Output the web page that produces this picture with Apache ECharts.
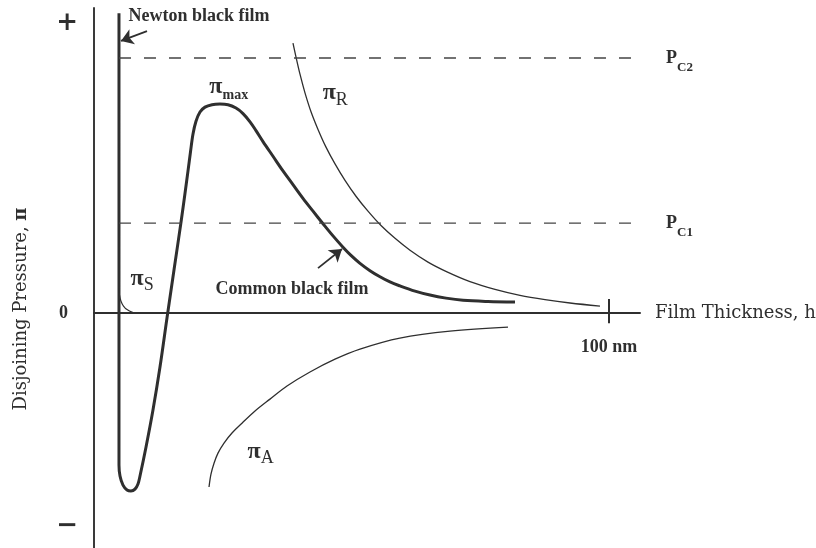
<!DOCTYPE html>
<html>
<head>
<meta charset="utf-8">
<script src="https://cdn.jsdelivr.net/npm/echarts@6/dist/echarts.min.js"></script>
<style>
  html, body { margin: 0; padding: 0; background: #ffffff; }
  #chart { width: 816px; height: 548px; }
</style>
</head>
<body>
<div id="chart"></div>
<script>
// Film thickness h (nm) against disjoining pressure (arbitrary units).

// Total isotherm: Newton black film branch, attractive well, barrier, common black film tail
const totalH  = [4.85, 4.85, 4.85, 5.05, 5.63, 6.41, 7.18, 7.96, 8.54, 8.93, 10.10, 11.45, 12.81, 14.17, 15.53, 16.89, 17.67, 18.25, 18.73, 19.22, 19.80, 20.58, 21.55, 22.91, 24.46, 26.01, 27.57, 28.93, 30.29, 31.45, 32.81, 34.75, 36.69, 38.63, 40.57, 42.52, 44.46, 46.40, 48.34, 49.89, 51.64, 53.58, 55.52, 57.46, 59.41, 62.32, 65.23, 68.34, 71.64, 76.49, 81.73];
const totalPi = [98.3, 20.6, -49.8, -53.4, -56.4, -58.0, -58.3, -57.7, -56.0, -53.4, -43.9, -31.8, -17.7, -1.6, 14.1, 29.8, 39.3, 46.6, 52.8, 58.7, 62.9, 65.9, 67.5, 68.3, 68.5, 68.3, 67.2, 65.4, 62.7, 59.8, 56.2, 51.4, 46.6, 42.1, 37.6, 33.4, 29.3, 25.3, 21.6, 18.9, 16.3, 13.9, 11.9, 10.2, 8.9, 7.2, 5.9, 4.9, 4.2, 3.8, 3.6];

// Electrostatic repulsion
const repulsiveH  = [38.63, 39.22, 39.99, 40.96, 42.13, 43.49, 45.04, 46.79, 48.73, 50.86, 53.19, 55.72, 58.44, 61.35, 64.84, 68.53, 72.99, 77.85, 82.70, 87.56, 92.41, 98.23];
const repulsivePi = [88.5, 83.9, 78.3, 72.2, 66.0, 60.2, 54.4, 48.9, 43.5, 38.3, 33.4, 28.7, 24.5, 20.6, 16.7, 13.5, 10.3, 7.75, 5.8, 4.4, 3.3, 2.3];

// Van der Waals attraction
const attractiveH  = [22.33, 22.71, 23.30, 24.07, 25.24, 26.79, 28.73, 31.26, 34.17, 37.47, 41.93, 46.79, 51.64, 59.38, 69.11, 80.37];
const attractivePi = [-57.0, -52.8, -49.2, -45.9, -42.6, -39.3, -36.1, -32.1, -28.2, -23.9, -19.3, -15.1, -11.8, -8.2, -5.9, -4.6];

// Short-range steric repulsion
const stericH  = [4.85, 4.95, 5.24, 5.73, 6.41, 7.57];
const stericPi = [8.2, 5.9, 3.9, 2.3, 1.15, 0.16];

// Capillary pressures P_C1 and P_C2
const criticalPressures = [29.5, 83.6];
const criticalNames = ['C1', 'C2'];
const criticalSpan = [4.85, 108.5];

// Axis ticks
const xTickValues = [100];
const yTickValues = [95, 0, -69.8];
const yTickLabels = ['+', '0', '\u2212'];

const ink = '#2f2f2f';
const serif = 'DejaVu Serif';
const timesBold = { fontFamily: 'Liberation Serif', fontWeight: 'bold' };

const zip = (xs, ys) => xs.map((x, i) => [x, ys[i]]);

const piRich = {
  pi:  Object.assign({ fontSize: 24, color: ink, verticalAlign: 'bottom', padding: [0, 0, 4, 0] }, timesBold),
  sub: { fontFamily: 'Liberation Serif', fontSize: 18, color: ink, verticalAlign: 'bottom' },
  max: Object.assign({ fontSize: 14, color: ink, verticalAlign: 'bottom' }, timesBold)
};

function note(coord, text, extra) {
  return {
    coord: coord,
    label: Object.assign({ formatter: text, rich: piRich }, extra || {})
  };
}

const chart = echarts.init(document.getElementById('chart'), null, { renderer: 'canvas' });

const dashedSeries = criticalPressures.map((p, i) => ({
  type: 'line',
  name: 'P' + criticalNames[i],
  data: zip(criticalSpan, [p, p]),
  clip: false,
  symbol: 'none',
  silent: true,
  lineStyle: { color: '#444', width: 1.4, type: [12, 13] },
  endLabel: {
    show: true,
    distance: 24,
    offset: [0, 4],
    formatter: () => '{p|P}{s|' + criticalNames[i] + '}',
    rich: {
      p: Object.assign({ fontSize: 18, color: ink, verticalAlign: 'bottom', padding: [0, 0, 7, 0] }, timesBold),
      s: Object.assign({ fontSize: 13, color: ink, verticalAlign: 'bottom' }, timesBold)
    }
  }
}));

const curveSmooth = 0.35;

const option = {
  animation: false,
  backgroundColor: '#ffffff',
  textStyle: { fontFamily: serif, color: ink },
  grid: { left: 94, right: 176, top: 8, bottom: 0, containLabel: false, outerBoundsMode: 'none' },
  xAxis: {
    type: 'value', min: 0, max: 106,
    splitLine: { show: false },
    axisLine: { onZero: true, lineStyle: { color: ink, width: 2 } },
    axisTick: { show: false },
    axisLabel: { show: false },
    name: 'Film Thickness, h', nameLocation: 'end', nameGap: 15,
    nameTextStyle: { fontFamily: serif, fontSize: 18, color: ink }
  },
  yAxis: {
    type: 'value', min: -77, max: 100,
    splitLine: { show: false },
    axisLine: { show: true, onZero: true, lineStyle: { color: '#3a3a3a', width: 2 } },
    axisTick: { show: false },
    axisLabel: {
      customValues: yTickValues,
      margin: 16,
      formatter: (v) => {
        const t = yTickLabels[yTickValues.indexOf(v)];
        return t === '0' ? '{z|0}' : '{s|' + t + '}';
      },
      rich: {
        s: { fontFamily: serif, fontWeight: 'bold', fontSize: 26, color: ink },
        z: Object.assign({ fontSize: 18, color: ink, padding: [0, 10, 0, 0] }, timesBold)
      }
    },
    name: '{a|Disjoining Pressure, }{b|\u03c0}',
    nameLocation: 'middle', nameRotate: 90, nameGap: 64,
    nameTextStyle: {
      padding: [0, 62, 0, 0],
      rich: {
        a: { fontFamily: serif, fontSize: 18, color: ink },
        b: { fontFamily: serif, fontSize: 18, fontWeight: 'bold', color: ink }
      }
    }
  },
  series: [
    {
      type: 'line',
      name: 'total',
      data: zip(totalH, totalPi),
      symbol: 'none',
      smooth: curveSmooth,
      silent: true,
      lineStyle: { color: ink, width: 3 },
      z: 3,
      markPoint: {
        silent: true,
        symbol: 'circle', symbolSize: 1,
        itemStyle: { color: 'transparent' },
        label: { show: true, position: 'right', distance: 0, color: ink },
        data: [
          note([6.6, 97.4], 'Newton black film', Object.assign({ fontSize: 18 }, timesBold)),
          note([23.5, 7.9], 'Common black film', Object.assign({ fontSize: 18 }, timesBold)),
          note([22.3, 73.6], '{pi|\u03c0}{max|max}'),
          note([44.3, 71.5], '{pi|\u03c0}{sub|R}'),
          note([7.0, 10.6], '{pi|\u03c0}{sub|S}'),
          note([29.7, -46.0], '{pi|\u03c0}{sub|A}')
        ]
      },
      markLine: {
        silent: true,
        symbol: ['none', 'arrow'],
        symbolSize: 12,
        label: { show: false },
        itemStyle: { color: ink },
        lineStyle: { color: ink, width: 1.8, type: 'solid' },
        data: [
          [{ coord: [10.29, 92.4] }, { coord: [5.24, 89.2] }],
          [{ coord: [43.49, 14.75] }, { coord: [48.15, 20.98] }]
        ]
      }
    },
    {
      // thickness tick crossing the h axis, with its label underneath
      type: 'line', name: 'tick',
      data: [],
      silent: true,
      markLine: {
        silent: true, symbol: 'none',
        lineStyle: { color: ink, width: 2, type: 'solid' },
        label: Object.assign({
          show: true, position: 'end', distance: 15,
          formatter: xTickValues[0] + ' nm', fontSize: 18, color: ink
        }, timesBold),
        data: [[{ coord: [xTickValues[0], 4.6] }, { coord: [xTickValues[0], -3.3] }]]
      }
    },
    {
      type: 'line', name: 'repulsive',
      data: zip(repulsiveH, repulsivePi),
      symbol: 'none', smooth: curveSmooth, silent: true,
      lineStyle: { color: ink, width: 1.3 }
    },
    {
      type: 'line', name: 'attractive',
      data: zip(attractiveH, attractivePi),
      symbol: 'none', smooth: curveSmooth, silent: true,
      lineStyle: { color: ink, width: 1.3 }
    },
    {
      type: 'line', name: 'steric',
      data: zip(stericH, stericPi),
      symbol: 'none', smooth: curveSmooth, silent: true,
      lineStyle: { color: ink, width: 1.2 }
    }
  ].concat(dashedSeries)
};

chart.setOption(option);
</script>
</body>
</html>
